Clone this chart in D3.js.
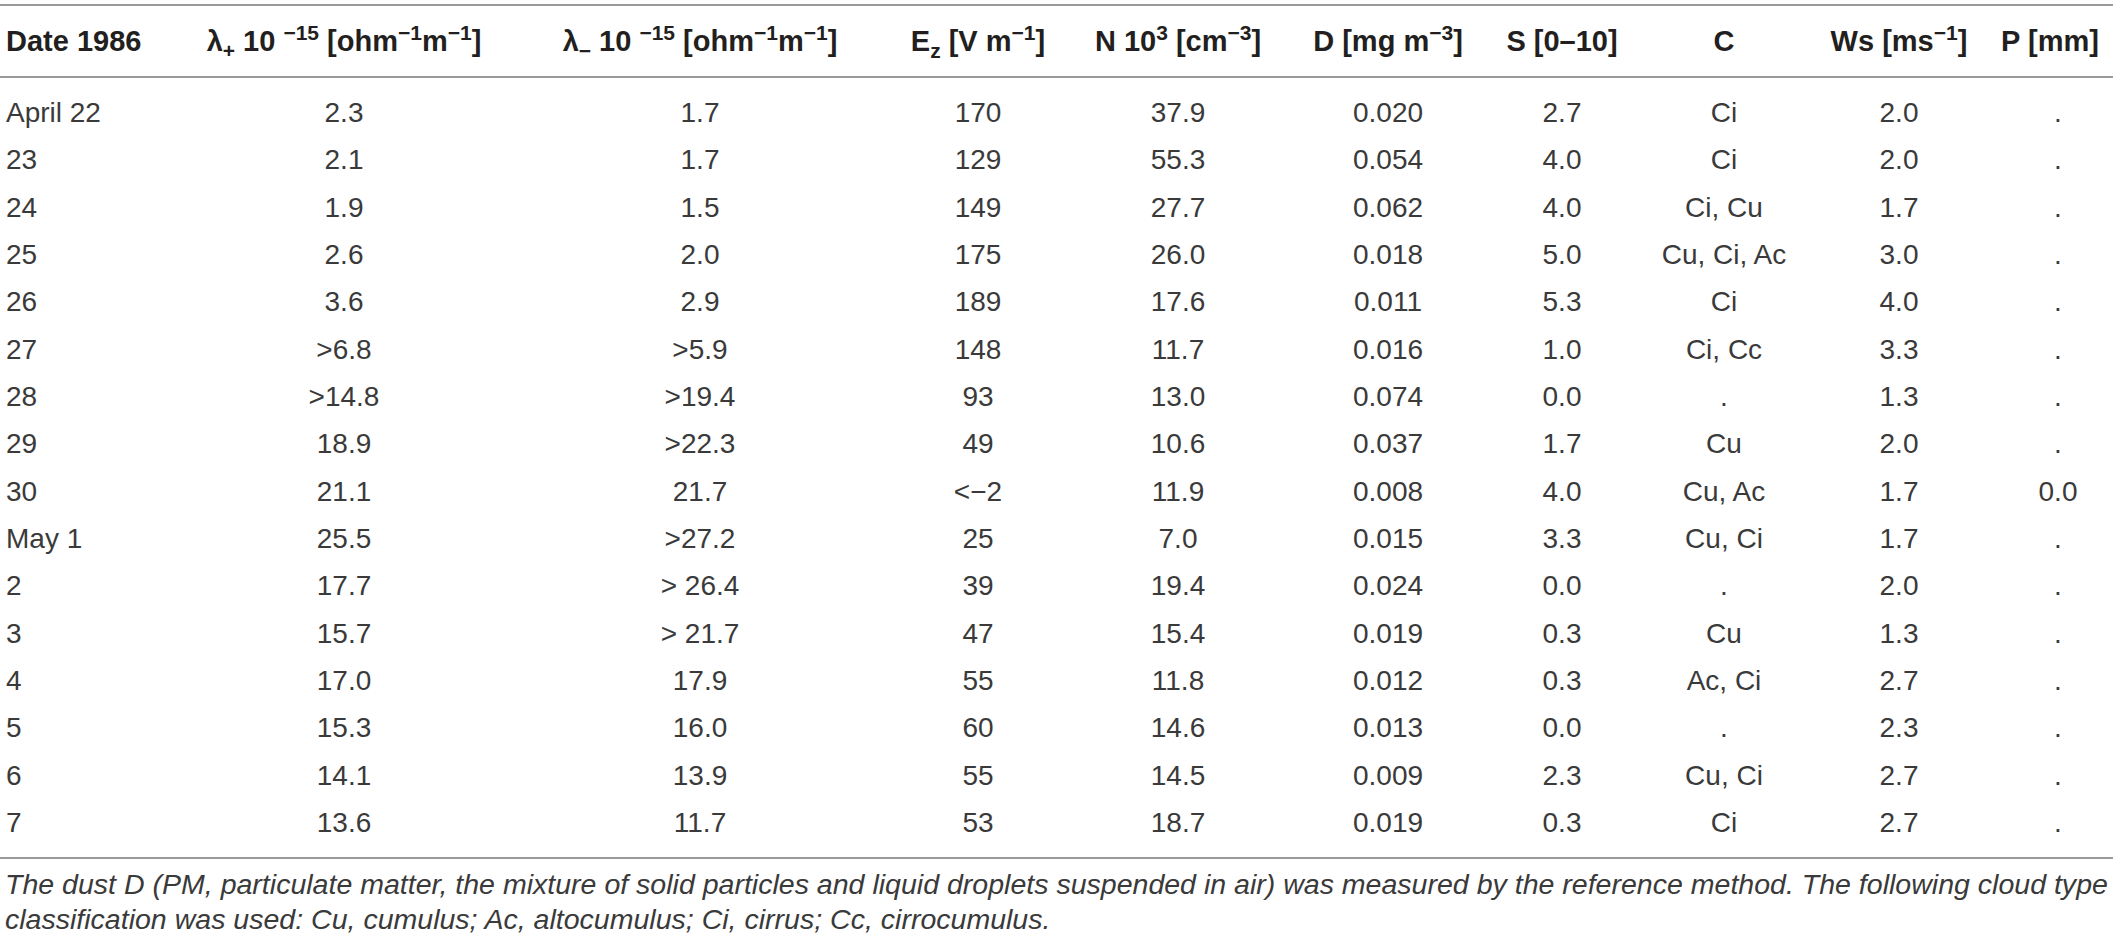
<!DOCTYPE html>
<html>
<head>
<meta charset="utf-8">
<script src="https://cdn.jsdelivr.net/npm/d3@7"></script>
<style>
  body { margin: 0; background: #fff; }
  svg { display: block; }
</style>
</head>
<body>
<svg id="chart"></svg>
<script>
// table values, one array per column
const dates       = ["April 22","23","24","25","26","27","28","29","30","May 1","2","3","4","5","6","7"];
const lambdaPlus  = ["2.3","2.1","1.9","2.6","3.6",">6.8",">14.8","18.9","21.1","25.5","17.7","15.7","17.0","15.3","14.1","13.6"];
const lambdaMinus = ["1.7","1.7","1.5","2.0","2.9",">5.9",">19.4",">22.3","21.7",">27.2","> 26.4","> 21.7","17.9","16.0","13.9","11.7"];
const ezField     = ["170","129","149","175","189","148","93","49","<\u22122","25","39","47","55","60","55","53"];
const nConc       = ["37.9","55.3","27.7","26.0","17.6","11.7","13.0","10.6","11.9","7.0","19.4","15.4","11.8","14.6","14.5","18.7"];
const dust        = ["0.020","0.054","0.062","0.018","0.011","0.016","0.074","0.037","0.008","0.015","0.024","0.019","0.012","0.013","0.009","0.019"];
const sunshine    = ["2.7","4.0","4.0","5.0","5.3","1.0","0.0","1.7","4.0","3.3","0.0","0.3","0.3","0.0","2.3","0.3"];
const clouds      = ["Ci","Ci","Ci, Cu","Cu, Ci, Ac","Ci","Ci, Cc",".","Cu","Cu, Ac","Cu, Ci",".","Cu","Ac, Ci",".","Cu, Ci","Ci"];
const windSpeed   = ["2.0","2.0","1.7","3.0","4.0","3.3","1.3","2.0","1.7","1.7","2.0","1.3","2.7","2.3","2.7","2.7"];
const precip      = [".",".",".",".",".",".",".",".","0.0",".",".",".",".",".",".","."];

// header labels: [text, "sup"|"sub"|undefined]
const headers = [
  [["Date 1986"]],
  [["\u03bb"],["+","sub"],[" 10 "],["\u221215","sup"],[" [ohm"],["\u22121","sup"],["m"],["\u22121","sup"],["]"]],
  [["\u03bb"],["\u2212","sub"],["  10 "],["\u221215","sup"],[" [ohm"],["\u22121","sup"],["m"],["\u22121","sup"],["]"]],
  [["E"],["z","sub"],[" [V m"],["\u22121","sup"],["]"]],
  [["N 10"],["3","sup"],[" [cm"],["\u22123","sup"],["]"]],
  [["D [mg m"],["\u22123","sup"],["]"]],
  [["S [0\u201310]"]],
  [["C"]],
  [["Ws [ms"],["\u22121","sup"],["]"]],
  [["P [mm]"]]
];

const footnote = [
  "The dust D (PM, particulate matter, the mixture of solid particles and liquid droplets suspended in air) was measured by the reference method. The following cloud type",
  "classification was used: Cu, cumulus; Ac, altocumulus; Ci, cirrus; Cc, cirrocumulus."
];

const columns = [dates, lambdaPlus, lambdaMinus, ezField, nConc, dust, sunshine, clouds, windSpeed, precip];

const width = 2118, height = 942;
const svg = d3.select("#chart").attr("width", width).attr("height", height);

// column centres (first column is left aligned)
const x = d3.scaleOrdinal()
  .domain(d3.range(columns.length))
  .range([6, 344, 700, 978, 1178, 1388, 1562, 1724, 1899, 2058]);

const y = d3.scalePoint().domain(d3.range(dates.length)).range([122, 832]);

const font = "'Liberation Sans', Arial, Helvetica, sans-serif";
const lineColor = "#9a9a9a";

// rules
svg.selectAll("line.rule")
  .data([5, 77, 858])
  .join("line")
  .attr("class", "rule")
  .attr("x1", 0).attr("x2", 2113)
  .attr("y1", d => d).attr("y2", d => d)
  .attr("stroke", lineColor)
  .attr("stroke-width", 2);

// header
const headG = svg.append("g").attr("font-family", font).attr("font-weight", "bold")
  .attr("fill", "#231f20")
  .style("white-space", "pre");
headers.forEach((parts, i) => {
  const t = headG.append("text")
    .attr("x", i === 9 ? 2050 : x(i))
    .attr("y", 51)
    .attr("font-size", 29)
    .attr("text-anchor", i === 0 ? "start" : "middle");
  let shift = 0;
  parts.forEach(([s, kind]) => {
    const target = kind === "sup" ? -11 : kind === "sub" ? 7 : 0;
    t.append("tspan")
      .attr("dy", target - shift)
      .attr("font-size", kind ? 21 : 29)
      .text(s);
    shift = target;
  });
});

// body cells
const bodyG = svg.append("g").attr("font-family", font).attr("fill", "#3a3a3a");
columns.forEach((col, ci) => {
  bodyG.selectAll(null)
    .data(col)
    .join("text")
    .attr("x", x(ci))
    .attr("y", (d, ri) => y(ri))
    .attr("font-size", 28)
    .attr("text-anchor", ci === 0 ? "start" : "middle")
    .text(d => d);
});

// footnote, fitted to the table width
const noteG = svg.append("g").attr("font-family", font).attr("font-style", "italic").attr("fill", "#3a3a3a");
const notes = noteG.selectAll("text")
  .data(footnote)
  .join("text")
  .attr("x", 5)
  .attr("y", (d, i) => 894 + i * 35)
  .attr("font-size", 27)
  .text(d => d);
const firstLen = notes.node().getComputedTextLength();
const fs = 27 * 2104 / firstLen;
notes.attr("font-size", fs);
</script>
</body>
</html>
